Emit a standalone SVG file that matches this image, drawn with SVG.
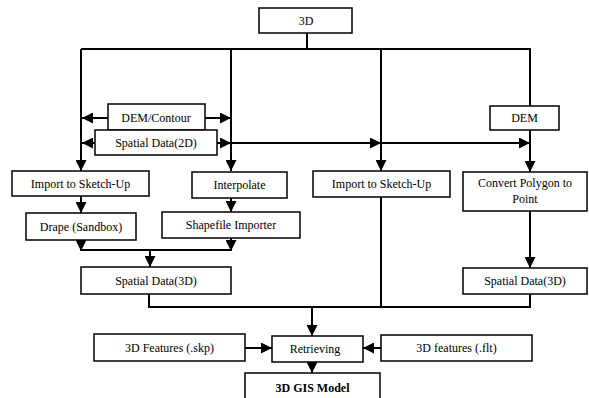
<svg xmlns="http://www.w3.org/2000/svg" width="589" height="398" viewBox="0 0 589 398">
<style>
.box{fill:#fff;stroke:#000;stroke-width:1.5}
.lbl{font-family:"Liberation Serif","Times New Roman",serif;font-size:12px;fill:#000;text-anchor:middle}
.bold{font-weight:bold}
.c{fill:none;stroke:#000;stroke-width:2}
.a{marker-end:url(#arr)}
</style>
<defs>
<marker id="arr" markerUnits="userSpaceOnUse" markerWidth="11" markerHeight="11" refX="11" refY="5.5" orient="auto">
<path d="M0,0 L11,5.5 L0,11 z" fill="#000"/>
</marker>
</defs>
<rect width="589" height="398" fill="#fff"/>
<g id="connectors">
<path class="c" d="M307,33 V49 M81,49 H530 V106"/>
<path class="c a" d="M81,49 V171"/>
<path class="c a" d="M231,49 V171"/>
<path class="c a" d="M381,49 V171"/>
<path class="c a" d="M530,130 V172"/>
<path class="c a" d="M108,118 H82"/>
<path class="c a" d="M205,118 H231"/>
<path class="c a" d="M95,143 H82"/>
<path class="c a" d="M217,143 H231"/>
<path class="c a" d="M231,143 H381"/>
<path class="c a" d="M381,143 H530"/>
<path class="c a" d="M81,196 V213"/>
<path class="c a" d="M231,198 V212"/>
<path class="c a" d="M81,240 V251"/>
<path class="c a" d="M231,238 V251"/>
<path class="c" d="M81,250 H231"/>
<path class="c a" d="M150,250 V267"/>
<path class="c a" d="M530,211 V268"/>
<path class="c" d="M149,294 V307 H530 V294 M381,197 V307"/>
<path class="c a" d="M312,307 V336"/>
<path class="c a" d="M245,348 H272"/>
<path class="c a" d="M381,348 H363"/>
<path class="c a" d="M312,362 V373"/>
</g>
<g id="n3d"><rect class="box" x="259" y="8" width="93" height="25"/><text class="lbl" x="306" y="25">3D</text></g>
<g id="demcontour"><rect class="box" x="108" y="104" width="97" height="26"/><text class="lbl" x="156" y="122">DEM/Contour</text></g>
<g id="spatial2d"><rect class="box" x="95" y="130" width="122" height="25"/><text class="lbl" x="156" y="147">Spatial Data(2D)</text></g>
<g id="dem"><rect class="box" x="490" y="106" width="69" height="24"/><text class="lbl" x="524.5" y="122">DEM</text></g>
<g id="import1"><rect class="box" x="12" y="171" width="137" height="25"/><text class="lbl" x="80.5" y="188">Import to Sketch-Up</text></g>
<g id="interpolate"><rect class="box" x="192" y="172" width="95" height="26"/><text class="lbl" x="239.5" y="189">Interpolate</text></g>
<g id="import2"><rect class="box" x="313" y="171" width="137" height="26"/><text class="lbl" x="381.5" y="188">Import to Sketch-Up</text></g>
<g id="convert"><rect class="box" x="463" y="172" width="124" height="39"/><text class="lbl" x="525" y="187">Convert Polygon to</text><text class="lbl" x="525" y="203">Point</text></g>
<g id="drape"><rect class="box" x="26" y="213" width="110" height="27"/><text class="lbl" x="81" y="231">Drape (Sandbox)</text></g>
<g id="shapefile"><rect class="box" x="162" y="212" width="138" height="26"/><text class="lbl" x="231" y="229">Shapefile Importer</text></g>
<g id="spatial3d-left"><rect class="box" x="81" y="267" width="150" height="27"/><text class="lbl" x="156" y="285">Spatial Data(3D)</text></g>
<g id="spatial3d-right"><rect class="box" x="463" y="268" width="124" height="26"/><text class="lbl" x="525" y="285">Spatial Data(3D)</text></g>
<g id="skp"><rect class="box" x="94" y="334" width="151" height="27"/><text class="lbl" x="169.5" y="352">3D Features (.skp)</text></g>
<g id="retrieving"><rect class="box" x="272" y="336" width="91" height="26"/><text class="lbl" x="315" y="353">Retrieving</text></g>
<g id="flt"><rect class="box" x="381" y="335" width="151" height="26"/><text class="lbl" x="456.5" y="352">3D features (.flt)</text></g>
<g id="gismodel"><rect class="box" x="245" y="373" width="135" height="27"/><text class="lbl bold" x="312.5" y="392">3D GIS Model</text></g>
</svg>
